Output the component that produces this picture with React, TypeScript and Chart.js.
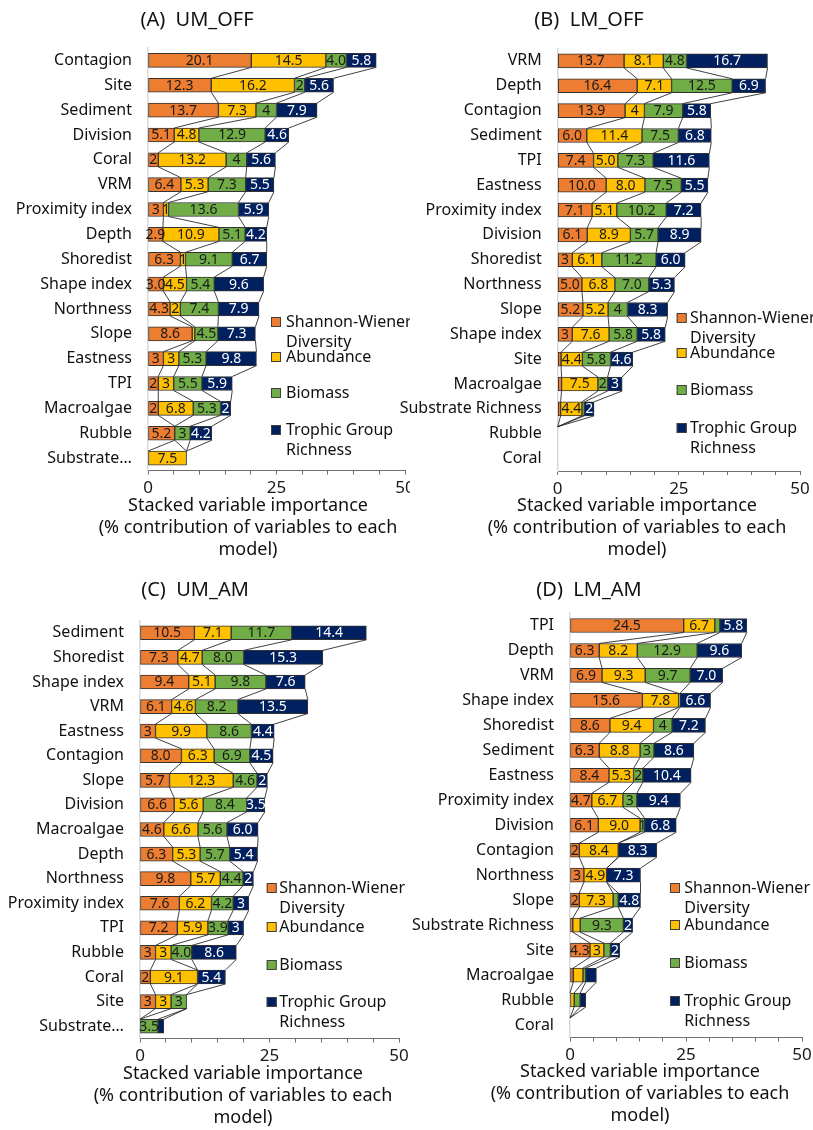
import { useEffect, useRef } from "react";
import { Chart, registerables } from "chart.js";
import type { ChartConfiguration, Plugin } from "chart.js";

Chart.register(...registerables);

// A cell is the printed value of a segment (string), an unlabeled value (number), or absent (null).
type Cell = string | number | null;

const FONT = '"Noto Sans", "DejaVu Sans", sans-serif';

const SERIES_NAMES = ["Shannon-Wiener Diversity", "Abundance", "Biomass", "Trophic Group Richness"];
const SERIES_COLORS = ["#ED7D31", "#FFC000", "#70AD47", "#002060"];
const LABEL_COLORS = ["#1a1a1a", "#1a1a1a", "#1a1a1a", "#ffffff"];
const LEGEND_LINES = [["Shannon-Wiener", "Diversity"], ["Abundance"], ["Biomass"], ["Trophic Group", "Richness"]];
const X_TICK_LABELS = [0, 25, 50];
const AXIS_TITLE = ["Stacked variable importance", "(% contribution of variables to each", "model)"];

// (A) UM_OFF
const umOffVariables = ["Contagion", "Site", "Sediment", "Division", "Coral", "VRM", "Proximity index", "Depth", "Shoredist", "Shape index", "Northness", "Slope", "Eastness", "TPI", "Macroalgae", "Rubble", "Substrate Richness"];
const umOffShannon: Cell[] = ["20.1", "12.3", "13.7", "5.1", "2", "6.4", "3", "2.9", "6.3", "3.0", "4.3", "8.6", "3", "2", "2", "5.2", null];
const umOffAbundance: Cell[] = ["14.5", "16.2", "7.3", "4.8", "13.2", "5.3", "1", "10.9", "1", "4.5", "2", 0.5, "3", "3", "6.8", null, "7.5"];
const umOffBiomass: Cell[] = ["4.0", "2", "4", "12.9", "4", "7.3", "13.6", "5.1", "9.1", "5.4", "7.4", "4.5", "5.3", "5.5", "5.3", "3", null];
const umOffTrophic: Cell[] = ["5.8", "5.6", "7.9", "4.6", "5.6", "5.5", "5.9", "4.2", "6.7", "9.6", "7.9", "7.3", "9.8", "5.9", "2", "4.2", null];

// (B) LM_OFF
const lmOffVariables = ["VRM", "Depth", "Contagion", "Sediment", "TPI", "Eastness", "Proximity index", "Division", "Shoredist", "Northness", "Slope", "Shape index", "Site", "Macroalgae", "Substrate Richness", "Rubble", "Coral"];
const lmOffShannon: Cell[] = ["13.7", "16.4", "13.9", "6.0", "7.4", "10.0", "7.1", "6.1", "3", "5.0", "5.2", "3", 0.7, 0.8, 0.6, null, null];
const lmOffAbundance: Cell[] = ["8.1", "7.1", "4", "11.4", "5.0", "8.0", "5.1", "8.9", "6.1", "6.8", "5.2", "7.6", "4.4", "7.5", "4.4", null, null];
const lmOffBiomass: Cell[] = ["4.8", "12.5", "7.9", "7.5", "7.3", "7.5", "10.2", "5.7", "11.2", "7.0", "4", "5.8", "5.8", "2", 0.5, null, null];
const lmOffTrophic: Cell[] = ["16.7", "6.9", "5.8", "6.8", "11.6", "5.5", "7.2", "8.9", "6.0", "5.3", "8.3", "5.8", "4.6", "3", "2", null, null];

// (C) UM_AM
const umAmVariables = ["Sediment", "Shoredist", "Shape index", "VRM", "Eastness", "Contagion", "Slope", "Division", "Macroalgae", "Depth", "Northness", "Proximity index", "TPI", "Rubble", "Coral", "Site", "Substrate Richness"];
const umAmShannon: Cell[] = ["10.5", "7.3", "9.4", "6.1", "3", "8.0", "5.7", "6.6", "4.6", "6.3", "9.8", "7.6", "7.2", "3", "2", "3", null];
const umAmAbundance: Cell[] = ["7.1", "4.7", "5.1", "4.6", "9.9", "6.3", "12.3", "5.6", "6.6", "5.3", "5.7", "6.2", "5.9", "3", "9.1", "3", null];
const umAmBiomass: Cell[] = ["11.7", "8.0", "9.8", "8.2", "8.6", "6.9", "4.6", "8.4", "5.6", "5.7", "4.4", "4.2", "3.9", "4.0", null, "3", "3.5"];
const umAmTrophic: Cell[] = ["14.4", "15.3", "7.6", "13.5", "4.4", "4.5", "2", "3.5", "6.0", "5.4", "2", "3", "3", "8.6", "5.4", null, 1.1];

// (D) LM_AM
const lmAmVariables = ["TPI", "Depth", "VRM", "Shape index", "Shoredist", "Sediment", "Eastness", "Proximity index", "Division", "Contagion", "Northness", "Slope", "Substrate Richness", "Site", "Macroalgae", "Rubble", "Coral"];
const lmAmShannon: Cell[] = ["24.5", "6.3", "6.9", "15.6", "8.6", "6.3", "8.4", "4.7", "6.1", "2", "3", "2", 0.6, "4.3", 0.7, null, null];
const lmAmAbundance: Cell[] = ["6.7", "8.2", "9.3", "7.8", "9.4", "8.8", "5.3", "6.7", "9.0", "8.4", "4.9", "7.3", 1.6, "3", 2.1, 0.9, null];
const lmAmBiomass: Cell[] = [1.1, "12.9", "9.7", 0.3, "4", "3", "2", "3", "1", null, null, 1.1, "9.3", 1.4, 0.6, 1.3, null];
const lmAmTrophic: Cell[] = ["5.8", "9.6", "7.0", "6.6", "7.2", "8.6", "10.4", "9.4", "6.8", "8.3", "7.3", "4.8", "2", "2", 2.3, 1.2, null];

interface PanelSpec {
  title: string;
  variables: string[];
  series: Cell[][];
  box: { left: number; top: number; width: number; height: number };
  plot: { left: number; top: number; right: number; bottom: number };
  titlePos: [number, number];
  axisTitlePos: [number, number];
  legend: { markerX: number; textX: number; ys: number[] };
  maxLabelWidth: number;
}

const PANELS: PanelSpec[] = [
  {
    title: "(A)  UM_OFF",
    variables: umOffVariables,
    series: [umOffShannon, umOffAbundance, umOffBiomass, umOffTrophic],
    box: { left: 0, top: 0, width: 410, height: 565 },
    plot: { left: 148, top: 48, right: 405, bottom: 470.5 },
    titlePos: [197, 20],
    axisTitlePos: [248, 506],
    legend: { markerX: 271, textX: 286, ys: [322, 357, 393, 430] },
    maxLabelWidth: 125,
  },
  {
    title: "(B)  LM_OFF",
    variables: lmOffVariables,
    series: [lmOffShannon, lmOffAbundance, lmOffBiomass, lmOffTrophic],
    box: { left: 390, top: 0, width: 423, height: 565 },
    plot: { left: 167.7, top: 48.5, right: 410, bottom: 471 },
    titlePos: [199, 20],
    axisTitlePos: [247, 506],
    legend: { markerX: 286.7, textX: 300, ys: [318, 353, 390, 428] },
    maxLabelWidth: 999,
  },
  {
    title: "(C)  UM_AM",
    variables: umAmVariables,
    series: [umAmShannon, umAmAbundance, umAmBiomass, umAmTrophic],
    box: { left: 0, top: 568, width: 410, height: 562 },
    plot: { left: 140, top: 52.5, right: 399, bottom: 470.5 },
    titlePos: [195, 22],
    axisTitlePos: [243, 506],
    legend: { markerX: 266.7, textX: 279.3, ys: [320, 359, 397, 434] },
    maxLabelWidth: 118,
  },
  {
    title: "(D)  LM_AM",
    variables: lmAmVariables,
    series: [lmAmShannon, lmAmAbundance, lmAmBiomass, lmAmTrophic],
    box: { left: 390, top: 568, width: 423, height: 562 },
    plot: { left: 180, top: 45, right: 412, bottom: 469.5 },
    titlePos: [199, 22],
    axisTitlePos: [250, 504],
    legend: { markerX: 280, textX: 294.3, ys: [320, 357, 395, 433] },
    maxLabelWidth: 999,
  },
];

const BAR_THICKNESS = 14;
const AXIS_TITLE_LINE = 22;

const toNumber = (c: Cell) => (c === null ? 0 : Number(c));

// Cumulative end of each series for each category (stack order).
function cumulative(series: Cell[][], n: number): number[][] {
  const out: number[][] = [];
  for (let d = 0; d < series.length; d++) {
    const row: number[] = [];
    for (let i = 0; i < n; i++) {
      row.push((d > 0 ? out[d - 1][i] : 0) + toNumber(series[d][i]));
    }
    out.push(row);
  }
  return out;
}

function panelDecor(spec: PanelSpec): Plugin<"bar"> {
  const n = spec.variables.length;
  const cum = cumulative(spec.series, n);
  const half = BAR_THICKNESS / 2;
  return {
    id: "panelDecor",
    beforeDatasetsDraw(chart) {
      // series lines joining each segment end between neighbouring bars
      const { ctx } = chart;
      const xs = chart.scales.x;
      const ys = chart.scales.y;
      ctx.save();
      ctx.strokeStyle = "#2b2b2b";
      ctx.lineWidth = 0.9;
      for (let d = 0; d < cum.length; d++) {
        for (let i = 0; i < n - 1; i++) {
          const a = cum[d][i];
          const b = cum[d][i + 1];
          if (a === 0 && b === 0) continue;
          ctx.beginPath();
          ctx.moveTo(xs.getPixelForValue(a), ys.getPixelForValue(i) + half);
          ctx.lineTo(xs.getPixelForValue(b), ys.getPixelForValue(i + 1) - half);
          ctx.stroke();
        }
      }
      ctx.restore();
    },
    afterDatasetsDraw(chart) {
      // value labels centred in their segments
      const { ctx } = chart;
      const xs = chart.scales.x;
      const ys = chart.scales.y;
      ctx.save();
      ctx.font = `14px ${FONT}`;
      ctx.textAlign = "center";
      ctx.textBaseline = "middle";
      for (let d = 0; d < spec.series.length; d++) {
        for (let i = 0; i < n; i++) {
          const cell = spec.series[d][i];
          if (typeof cell !== "string") continue;
          const end = cum[d][i];
          const start = end - Number(cell);
          const cx = (xs.getPixelForValue(start) + xs.getPixelForValue(end)) / 2;
          ctx.fillStyle = LABEL_COLORS[d];
          ctx.fillText(cell, cx, ys.getPixelForValue(i) + 0.5);
        }
      }
      ctx.restore();
    },
    afterDraw(chart) {
      const { ctx } = chart;
      ctx.save();
      ctx.fillStyle = "#111";
      ctx.textBaseline = "middle";
      // panel title
      ctx.font = `20px ${FONT}`;
      ctx.textAlign = "center";
      ctx.fillText(spec.title, spec.titlePos[0], spec.titlePos[1]);
      // x-axis title, three lines
      ctx.font = `18px ${FONT}`;
      AXIS_TITLE.forEach((line, j) =>
        ctx.fillText(line, spec.axisTitlePos[0], spec.axisTitlePos[1] + j * AXIS_TITLE_LINE)
      );
      // legend
      ctx.font = `16px ${FONT}`;
      ctx.textAlign = "left";
      LEGEND_LINES.forEach((lines, k) => {
        const y = spec.legend.ys[k];
        ctx.fillStyle = SERIES_COLORS[k];
        ctx.fillRect(spec.legend.markerX, y - 5, 10, 10);
        ctx.strokeStyle = "#404040";
        ctx.lineWidth = 1;
        ctx.strokeRect(spec.legend.markerX + 0.5, y - 4.5, 9, 9);
        ctx.fillStyle = "#111";
        lines.forEach((line, j) => ctx.fillText(line, spec.legend.textX, y + j * 19.5 + 0.5));
      });
      ctx.restore();
    },
  };
}

function buildConfig(spec: PanelSpec): ChartConfiguration<"bar"> {
  const { box, plot } = spec;
  return {
    type: "bar",
    data: {
      labels: spec.variables,
      datasets: spec.series.map((cells, d) => ({
        label: SERIES_NAMES[d],
        data: cells.map((c) => (c === null ? null : Number(c))),
        backgroundColor: SERIES_COLORS[d],
        borderColor: "#333333",
        borderWidth: 1,
        borderSkipped: false,
        barThickness: BAR_THICKNESS,
      })),
    },
    options: {
      indexAxis: "y",
      animation: false,
      responsive: false,
      maintainAspectRatio: false,
      layout: { padding: { left: 0, top: plot.top, right: box.width - plot.right, bottom: 0 } },
      plugins: {
        legend: { display: false },
        tooltip: { enabled: false },
        title: { display: false },
      },
      scales: {
        x: {
          type: "linear",
          stacked: true,
          min: 0,
          max: 50,
          afterFit(scale: any) {
            scale.height = box.height - plot.bottom;
            scale.paddingLeft = 0;
            scale.paddingRight = 0;
          },
          ticks: {
            stepSize: 5,
            autoSkip: false,
            maxRotation: 0,
            padding: 3.5,
            color: "#1a1a1a",
            font: { family: FONT, size: 17 },
            callback: (v) => (X_TICK_LABELS.includes(Number(v)) ? String(v) : ""),
          },
          grid: { display: true, drawOnChartArea: false, drawTicks: true, tickLength: 4, color: "#6f6f6f" },
          border: { display: true, color: "#6f6f6f", width: 1 },
          title: { display: false },
        },
        y: {
          type: "category",
          stacked: true,
          afterFit(scale: any) {
            scale.width = plot.left;
            scale.paddingTop = 0;
            scale.paddingBottom = 0;
          },
          grid: { display: false, drawTicks: false },
          border: { display: true, color: "#d9d9d9", width: 1.5 },
          ticks: {
            autoSkip: false,
            padding: 16,
            color: "#111",
            font: { family: FONT, size: 16 },
            callback(this: any, value: any) {
              const label: string = this.getLabelForValue(value);
              const ctx: CanvasRenderingContext2D = this.ctx;
              ctx.save();
              ctx.font = `16px ${FONT}`;
              let text = label;
              if (ctx.measureText(label).width > spec.maxLabelWidth) {
                const words = label.split(" ");
                text = words[0] + "…";
                for (let k = 1; k < words.length; k++) {
                  const candidate = words.slice(0, k + 1).join(" ") + "…";
                  if (ctx.measureText(candidate).width > spec.maxLabelWidth) break;
                  text = candidate;
                }
              }
              ctx.restore();
              return text;
            },
          },
        },
      },
    },
    plugins: [panelDecor(spec)],
  };
}

function Panel({ spec }: { spec: PanelSpec }) {
  const ref = useRef<HTMLCanvasElement>(null);
  useEffect(() => {
    if (!ref.current) return;
    const chart = new Chart(ref.current, buildConfig(spec));
    return () => chart.destroy();
  }, [spec]);
  const { left, top, width, height } = spec.box;
  return (
    <canvas
      ref={ref}
      width={width}
      height={height}
      style={{ position: "absolute", left, top, width, height }}
    />
  );
}

export default function App() {
  return (
    <div style={{ position: "absolute", left: 0, top: 0, width: 813, height: 1130, background: "#ffffff", overflow: "hidden" }}>
      {PANELS.map((p) => (
        <Panel key={p.title} spec={p} />
      ))}
    </div>
  );
}
